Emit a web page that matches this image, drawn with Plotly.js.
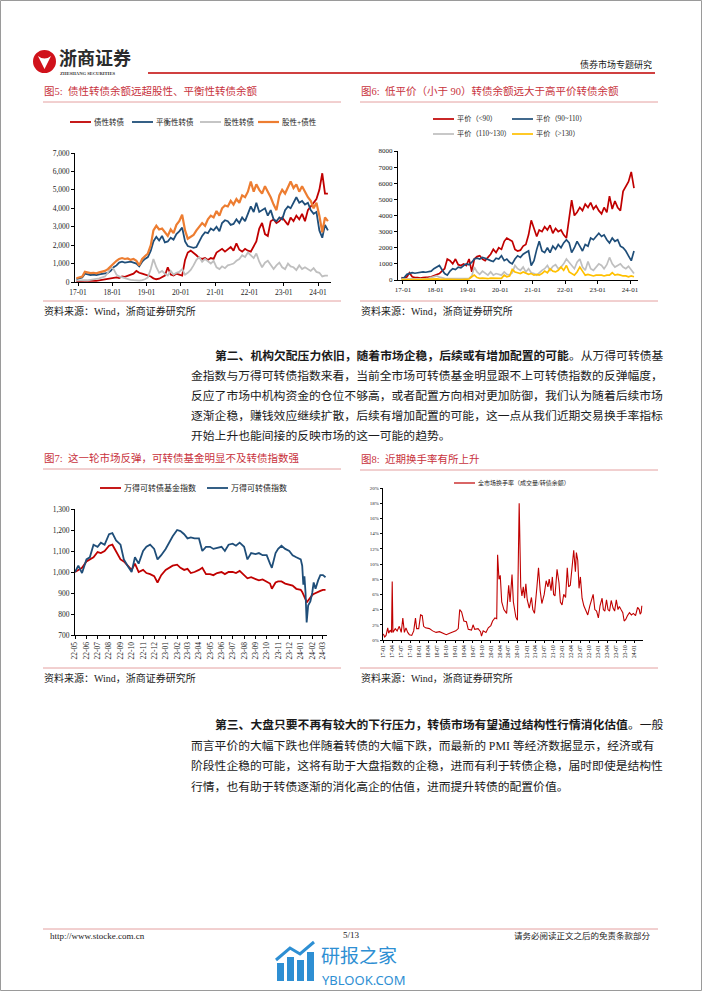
<!DOCTYPE html>
<html>
<head>
<meta charset="utf-8">
<script src="https://cdn.plot.ly/plotly-3.0.1.min.js"></script>
<style>
  html, body { margin: 0; padding: 0; background: #fff; }
  #page { width: 702px; height: 991px; }
</style>
</head>
<body>
<div id="page"></div>
<script>
'use strict';

/* global Plotly */

// ---- data: fig 5 (monthly, 2016-12 .. 2024-04), 亿元
const bondLike5 = [50,
  60, 50, 80, 60, 70, 80, 60, 90, 100, 120, 150, 180,
  200, 250, 220, 300, 280, 350, 400, 450, 600, 500, 450, 400,
  350, 300, 200, 150, 180, 250, 350, 800, 400, 350, 450, 400,
  350, 1200, 1600, 1700, 1600, 1450, 1300, 1250, 1300, 1200, 1300, 1250,
  1600, 1700, 1800, 1650, 1750, 1900, 1700, 2100, 1750, 1650, 1800, 1700,
  1650, 1900, 2200, 2900, 3200, 2600, 2500, 3300, 3400, 3200, 3300, 3500,
  3300, 3100, 3500, 3300, 3600, 3400, 3700, 3300, 3900, 4100, 4300, 4500,
  5000, 5900, 4800, 4800];
const balanced5 = [150,
  200, 250, 450, 420, 380, 400, 380, 420, 450, 480, 500, 600,
  800, 900, 1050, 1100, 1050, 1080, 1100, 1050, 1000, 850, 1100, 1250,
  1350, 1700, 2200, 2450, 2250, 2500, 2150, 2200, 2400, 2300, 2600, 2750,
  2950, 2200, 1950, 1900, 1850, 1900, 2200, 2500, 2700, 2650, 2900, 2800,
  3000, 2750, 3200, 3350, 3300, 3100, 3150, 3400, 3200, 3500, 3300, 3700,
  4100, 3800, 4300, 3800, 3900, 4000, 3600, 3900, 3400, 3300, 3500, 3400,
  3900, 4100, 4000, 4300, 4600, 4300, 4400, 4200, 4300, 3900, 3700, 3800,
  2800, 2400, 3100, 2800];
const equityLike5 = [80,
  100, 120, 100, 90, 110, 120, 150, 200, 250, 300, 500, 800,
  700, 400, 300, 250, 200, 150, 120, 100, 80, 70, 100, 150,
  250, 700, 1250, 800, 500, 600, 450, 350, 600, 400, 500, 550,
  700, 400, 500, 650, 900, 1200, 1350, 1100, 1250, 1100, 1000, 1150,
  800, 700, 850, 750, 900, 950, 1000, 1150, 1250, 1450, 1350, 1600,
  1450, 1300, 1550, 1100, 800, 1050, 1150, 950, 700, 900, 1050, 800,
  700, 1000, 850, 800, 650, 900, 700, 800, 700, 600, 750, 550,
  500, 300, 350, 350];
const equityPlusBond5 = [200,
  250, 300, 550, 520, 480, 500, 470, 520, 560, 600, 700, 850,
  1050, 1150, 1250, 1300, 1250, 1280, 1200, 1250, 1150, 900, 1250, 1400,
  1550, 2000, 2800, 3050, 2850, 2900, 2700, 2500, 2850, 2650, 3100, 3300,
  3650, 2800, 2350, 2450, 2550, 2800, 3000, 3200, 3050, 3400, 3600, 3500,
  3850, 3600, 4000, 4150, 4100, 4400, 4200, 4500, 4300, 4700, 4600, 4900,
  5450, 4900, 5300, 5000, 4800, 5200, 4900, 4600, 4200, 3900, 4700, 5000,
  4800, 5100, 5450, 5100, 5300, 4900, 5200, 4900, 4600, 4400, 4000, 4300,
  3600, 2700, 3500, 3300];

// ---- data: fig 6 (monthly, 2016-12 .. 2024-02), 亿元
const parityBelow90 = [150,
  100, 200, 450, 200, 150, 150, 120, 150, 150, 180, 200, 250,
  350, 400, 550, 700, 1300, 1200, 1000, 1300, 950, 900, 1000, 900,
  1300, 500, 1300, 1450, 1500, 1300, 1200, 1400, 1600, 1900, 1700, 2000,
  1900, 2400, 2600, 2500, 2400, 1900, 1800, 1850, 2100, 2200, 2800, 3700,
  3200, 2700, 3100, 3000, 3300, 3100, 3400, 2900, 3200, 3000, 3100, 2800,
  2600, 4000, 4950, 4000, 4200, 4500, 4300, 4700, 4500, 4800, 4400, 4600,
  4300, 4100, 4500, 4200, 5200, 4400, 4900, 4500, 4300, 5500, 5800, 6100,
  6700, 5700];
const parity90to110 = [100,
  150, 350, 400, 450, 420, 450, 480, 500, 480, 500, 550, 700,
  800, 900, 650, 400, 300, 550, 700, 650, 800, 750, 900, 1000,
  950, 1100, 1300, 1350, 1300, 1400, 1350, 1250, 1200, 1150, 1350, 1300,
  1500, 1200, 1300, 1100, 1000, 1300, 1500, 1400, 1600, 1700, 1800, 900,
  1200, 1900, 2400, 1800, 1700, 2000, 1700, 2100, 1900, 2200, 2000, 2300,
  2500, 2300, 1700, 2000, 2400, 2100, 1800, 2200, 2100, 2600, 2500, 2700,
  2900, 2700, 2800, 2500, 2300, 2600, 2400, 2500, 2100, 2000, 1800, 1500,
  1200, 1800];
const parity110to130 = [50,
  50, 80, 60, 50, 50, 60, 70, 80, 90, 100, 150, 200,
  250, 180, 120, 100, 80, 80, 90, 70, 60, 60, 80, 90,
  100, 250, 800, 500, 350, 550, 400, 300, 500, 300, 400, 350,
  300, 500, 350, 300, 450, 900, 700, 600, 800, 500, 700, 450,
  400, 300, 450, 600, 700, 900, 600, 850, 950, 700, 800, 1000,
  1300, 1100, 950, 700, 1100, 1300, 800, 600, 1150, 700, 600, 800,
  1000, 900, 700, 950, 1400, 1000, 800, 900, 1000, 800, 700, 850,
  600, 400];
const parityAbove130 = [20,
  30, 30, 40, 30, 30, 30, 40, 40, 50, 50, 60, 60,
  70, 60, 50, 50, 40, 40, 40, 30, 30, 30, 40, 50,
  60, 200, 300, 150, 100, 120, 100, 80, 120, 100, 120, 100,
  100, 300, 200, 250, 650, 500, 450, 400, 500, 400, 350, 400,
  300, 350, 300, 400, 550, 450, 700, 550, 500, 600, 800, 600,
  900, 500, 400, 300, 500, 800, 550, 300, 350, 300, 250, 300,
  300, 300, 250, 300, 300, 450, 300, 350, 300, 250, 250, 200,
  250, 200];
const yearTicks = ['2017-01-01', '2018-01-01', '2019-01-01', '2020-01-01',
  '2021-01-01', '2022-01-01', '2023-01-01', '2024-01-01'];

// ---- data: fig 7
const idxDates = [
  '2022-05-01', '2022-05-10', '2022-05-20', '2022-06-01', '2022-06-10', '2022-06-20',
  '2022-07-01', '2022-07-10', '2022-07-20', '2022-08-01', '2022-08-10', '2022-08-20',
  '2022-09-01', '2022-09-10', '2022-09-20', '2022-10-01', '2022-10-10', '2022-10-20',
  '2022-11-01', '2022-11-10', '2022-11-20', '2022-12-01', '2022-12-10', '2022-12-20',
  '2023-01-01', '2023-01-10', '2023-01-20', '2023-02-01', '2023-02-10', '2023-02-20',
  '2023-03-01', '2023-03-10', '2023-03-20', '2023-04-01', '2023-04-10', '2023-04-20',
  '2023-05-01', '2023-05-10', '2023-05-20', '2023-06-01', '2023-06-10', '2023-06-20',
  '2023-07-01', '2023-07-10', '2023-07-20', '2023-08-01', '2023-08-10', '2023-08-20',
  '2023-09-01', '2023-09-10', '2023-09-20', '2023-10-01', '2023-10-10', '2023-10-15',
  '2023-10-25', '2023-11-01', '2023-11-10', '2023-11-20', '2023-12-01', '2023-12-10',
  '2023-12-20', '2024-01-01', '2024-01-05', '2024-01-08', '2024-01-11', '2024-01-14',
  '2024-01-17', '2024-01-21', '2024-01-27', '2024-02-01', '2024-02-05', '2024-02-10',
  '2024-02-17', '2024-02-23', '2024-03-01', '2024-03-08'];
const fundIndex = [
  1000, 1010, 1020, 1050, 1060, 1070, 1095, 1090, 1100, 1125, 1130, 1100,
  1060, 1050, 1030, 1010, 1040, 1000, 1010, 995, 990, 980, 950, 985,
  1010, 1020, 1030, 1035, 1020, 1010, 1015, 995, 1000, 1010, 1020, 990,
  990, 985, 995, 1000, 990, 1000, 1000, 995, 1005, 985, 970, 975,
  965, 960, 965, 955, 945, 920, 950, 955, 955, 945, 940, 935,
  920, 915, 905, 895, 885, 870, 855, 865, 880, 890, 895, 900,
  905, 910, 915, 915];
const cbIndex = [
  1000, 1030, 995, 1060, 1070, 1130, 1120, 1140, 1130, 1180, 1185, 1150,
  1130, 1060, 1030, 1000, 1070, 1040, 1100, 1120, 1130, 1110, 1060, 1080,
  1110, 1140, 1170, 1200, 1195, 1180, 1160, 1165, 1160, 1160, 1100, 1120,
  1120, 1110, 1115, 1120, 1100, 1130, 1135, 1125, 1140, 1120, 1060, 1090,
  1085, 1090, 1080, 1080, 1040, 1020, 1090, 1110, 1125, 1110, 1100, 1080,
  1070, 1060, 1030, 940, 980, 900, 760, 840, 860, 900, 950, 920,
  960, 985, 985, 975];

// ---- data: fig 8, 全市场换手率 (%)
const turnDates = [
  '2017-01-01', '2017-01-14', '2017-01-28', '2017-02-14', '2017-02-24', '2017-03-11',
  '2017-03-25', '2017-04-01', '2017-04-08', '2017-05-02', '2017-05-21', '2017-06-12',
  '2017-07-02', '2017-07-18', '2017-08-03', '2017-08-19', '2017-09-06', '2017-09-23',
  '2017-10-17', '2017-11-06', '2017-11-24', '2017-12-06', '2017-12-27', '2018-01-15',
  '2018-02-01', '2018-02-15', '2018-03-06', '2018-04-15', '2018-05-18', '2018-06-22',
  '2018-07-27', '2018-09-01', '2018-10-04', '2018-11-07', '2018-12-12', '2019-01-09',
  '2019-02-03', '2019-02-18', '2019-03-09', '2019-04-01', '2019-04-27', '2019-05-16',
  '2019-06-18', '2019-07-04', '2019-07-21', '2019-08-24', '2019-09-18', '2019-09-28',
  '2019-10-15', '2019-11-12', '2019-12-06', '2020-01-01', '2020-01-19', '2020-02-12',
  '2020-03-01', '2020-03-10', '2020-03-24', '2020-04-06', '2020-04-21', '2020-05-13',
  '2020-06-10', '2020-07-01', '2020-07-15', '2020-08-04', '2020-08-18', '2020-09-12',
  '2020-09-28', '2020-10-16', '2020-11-01', '2020-11-13', '2020-11-27', '2020-12-10',
  '2020-12-23', '2021-01-06', '2021-01-27', '2021-02-18', '2021-03-04', '2021-03-21',
  '2021-04-15', '2021-05-01', '2021-05-18', '2021-06-04', '2021-06-28', '2021-07-18',
  '2021-08-05', '2021-08-18', '2021-09-06', '2021-09-19', '2021-10-02', '2021-10-16',
  '2021-11-06', '2021-11-26', '2021-12-10', '2021-12-27', '2022-01-13', '2022-02-01',
  '2022-02-18', '2022-03-04', '2022-03-21', '2022-04-08', '2022-04-25', '2022-05-12',
  '2022-05-22', '2022-06-05', '2022-06-18', '2022-07-02', '2022-07-19', '2022-08-06',
  '2022-08-26', '2022-09-15', '2022-10-06', '2022-10-26', '2022-11-09', '2022-11-26',
  '2022-12-14', '2023-01-01', '2023-01-18', '2023-02-08', '2023-02-21', '2023-03-08',
  '2023-03-25', '2023-04-09', '2023-04-25', '2023-05-12', '2023-05-31', '2023-06-16',
  '2023-07-03', '2023-07-20', '2023-08-03', '2023-08-20', '2023-09-07', '2023-09-21',
  '2023-10-07', '2023-10-24', '2023-11-14', '2023-12-04', '2023-12-24', '2024-01-15',
  '2024-02-05', '2024-02-22', '2024-03-02', '2024-03-12', '2024-03-19'];
const turnover = [
  0.8, 0.4, 0.6, 1.6, 0.9, 1.3,
  1.0, 7.7, 1.0, 1.5, 1.2, 1.8,
  1.0, 2.9, 1.0, 1.6, 1.0, 0.7,
  0.6, 1.2, 2.9, 1.5, 1.5, 3.3,
  3.2, 1.8, 1.6, 1.5, 1.2, 1.0,
  1.1, 0.9, 0.7, 0.9, 1.1, 1.2,
  1.5, 4.0, 3.7, 2.5, 2.4, 1.4,
  1.3, 2.0, 1.4, 1.5, 1.1, 0.5,
  1.2, 1.0, 1.6, 1.9, 2.5, 2.9,
  2.8, 11.2, 8.0, 8.5, 5.0, 4.0,
  3.5, 7.2, 5.0, 8.6, 5.0, 3.0,
  2.6, 18.0, 7.0, 5.8, 7.0, 5.5,
  7.4, 5.3, 4.2, 5.6, 4.0, 3.5,
  7.0, 9.5, 6.5, 4.8, 6.0, 7.8,
  7.0, 8.0, 6.5, 8.3, 6.0, 5.8,
  9.3, 7.5, 5.0, 4.6, 6.0, 5.6,
  9.5, 7.0, 7.2, 10.0, 11.8, 9.0,
  11.5, 10.5, 6.8, 8.3, 5.5, 4.5,
  3.8, 3.3, 4.5, 5.5, 6.0, 4.0,
  3.8, 2.9, 4.5, 5.5, 4.0, 3.8,
  5.3, 4.0, 3.8, 5.2, 4.2, 3.8,
  5.3, 4.0, 4.4, 4.0, 3.6, 2.5,
  2.7, 3.2, 3.6, 3.3, 3.5, 3.2,
  4.3, 4.0, 3.4, 3.6, 4.5];

// ---- page geometry (pixels of the 702 x 991 page)
const W = 702;
const H = 991;
const px = v => v / W;
const py = v => 1 - v / H;

const SERIF = '"Liberation Serif", "Noto Sans CJK SC", serif';
const RED = '#c00000';
const NAVY = '#1f4e79';
const GREY = '#bfbfbf';
const ORANGE = '#ed7d31';
const GOLD = '#ffc000';
const TITLE_RED = '#c8323c';
const RULE = '#e4a0a0';

// month-middle dates, used as the x of the monthly series
function monthly(year, month, n) {
  const out = [];
  for (let i = 0; i < n; i++) {
    out.push(`${year}-${String(month).padStart(2, '0')}-15`);
    month++;
    if (month > 12) {
      month = 1;
      year++;
    }
  }
  return out;
}
const months5 = monthly(2016, 12, bondLike5.length);
const months6 = monthly(2016, 12, parityBelow90.length);

function line(x, y, color, width, n) {
  return {
    x, y, type: 'scatter', mode: 'lines', hoverinfo: 'skip', showlegend: false,
    line: {color, width},
    xaxis: 'x' + (n > 1 ? n : ''), yaxis: 'y' + (n > 1 ? n : '')
  };
}

const data = [
  line(months5, bondLike5, RED, 1.8, 1),
  line(months5, balanced5, NAVY, 1.8, 1),
  line(months5, equityLike5, GREY, 1.8, 1),
  line(months5, equityPlusBond5, ORANGE, 2.2, 1),
  line(months6, parityBelow90, RED, 1.7, 2),
  line(months6, parity90to110, NAVY, 1.7, 2),
  line(months6, parity110to130, GREY, 1.7, 2),
  line(months6, parityAbove130, GOLD, 1.7, 2),
  line(idxDates, fundIndex, RED, 1.8, 3),
  line(idxDates, cbIndex, NAVY, 1.8, 3),
  line(turnDates, turnover, '#c00000', 1.1, 4)
];

function axis(extra) {
  return Object.assign({
    showline: true, linecolor: '#000', linewidth: 1,
    ticks: 'outside', ticklen: 3, tickwidth: 1, tickcolor: '#000',
    showgrid: false, zeroline: false, fixedrange: true,
    tickfont: {family: SERIF, size: 7.5, color: '#222'}
  }, extra);
}

// ---- text helpers
function note(text, x, y, size, opts = {}) {
  return {
    text, xref: 'paper', yref: 'paper', x: px(x), y: py(y),
    xanchor: opts.anchor || 'left', yanchor: 'middle', showarrow: false,
    borderpad: 0,
    font: {family: opts.family || SERIF, size, color: opts.color || '#1a1a1a'}
  };
}
function hline(x0, x1, y, color, width) {
  return {type: 'line', xref: 'paper', yref: 'paper',
    x0: px(x0), x1: px(x1), y0: py(y), y1: py(y), line: {color, width}};
}
function box(x0, y0, x1, y1, fill) {
  return {type: 'rect', xref: 'paper', yref: 'paper',
    x0: px(x0), x1: px(x1), y0: py(y1), y1: py(y0), fillcolor: fill, line: {width: 0}};
}

const shapes = [];
const annotations = [];

// legend entry: short line + label
function key(x, y, color, label, size, width) {
  shapes.push(hline(x, x + 21, y, color, width));
  annotations.push(note(label, x + 23, y, size));
}

// page frame
shapes.push({type: 'rect', xref: 'paper', yref: 'paper', x0: px(0.5), x1: px(701.5),
  y0: py(990.5), y1: py(0.5), line: {color: '#9a9a9a', width: 1}});

// header
shapes.push({type: 'circle', xref: 'paper', yref: 'paper',
  x0: px(33), x1: px(56), y0: py(73), y1: py(50), fillcolor: '#d0121b', line: {width: 0}});
shapes.push({type: 'path', xref: 'paper', yref: 'paper',
  path: `M ${px(38)} ${py(56)} Q ${px(44.5)} ${py(61)} ${px(51)} ${py(56)} L ${px(44.5)} ${py(69)} Z`,
  fillcolor: '#fff', line: {width: 0}});
shapes.push(hline(148, 655, 73, '#c00000', 1.3));
annotations.push(note('<b>浙商证券</b>', 58, 57, 18, {family: '"Noto Sans CJK SC", sans-serif', color: '#2b2b2b'}));
annotations.push(note('<b>ZHESHANG SECURITIES</b>', 59, 73.5, 4.6, {color: '#333'}));
annotations.push(note('债券市场专题研究', 653, 65, 9, {anchor: 'right'}));

// figure titles, rules and sources
const figTitles = [
  ['图5:  债性转债余额远超股性、平衡性转债余额', 43, 91],
  ['图6:  低平价（小于 90）转债余额远大于高平价转债余额', 360, 91],
  ['图7:  这一轮市场反弹，可转债基金明显不及转债指数强', 43, 458],
  ['图8:  近期换手率有所上升', 360, 459]
];
figTitles.forEach(([t, x, y]) => {
  annotations.push(note(t, x, y, 10.5, {color: TITLE_RED}));
  shapes.push(hline(x, x + 298, y + 11, RULE, 1));
  shapes.push(hline(x, x + 298, y < 400 ? 301 : 668, RULE, 1));
  annotations.push(note('资料来源：Wind，浙商证券研究所', x, y < 400 ? 311 : 678, 10));
});

// legends
key(70, 122, RED, '债性转债', 7.5, 1.8);
key(132, 122, NAVY, '平衡性转债', 7.5, 1.8);
key(200, 122, GREY, '股性转债', 7.5, 1.8);
key(258, 122, ORANGE, '股性+债性', 7.5, 2.2);

key(433, 119, RED, '平价（<90）', 7.2, 1.7);
key(512, 119, NAVY, '平价（90~110）', 7.2, 1.7);
key(433, 134, GREY, '平价（110~130）', 7.2, 1.7);
key(512, 134, GOLD, '平价（>130）', 7.2, 1.7);

key(100, 488, RED, '万得可转债基金指数', 8, 1.8);
key(207, 488, NAVY, '万得可转债指数', 8, 1.8);

key(454, 483, '#c00000', '全市场换手率（成交量/转债余额）', 6, 1.2);

// body text
const para1 = [
  '<b>第二、机构欠配压力依旧，随着市场企稳，后续或有增加配置的可能</b>。从万得可转债基',
  '金指数与万得可转债指数来看，当前全市场可转债基金明显跟不上可转债指数的反弹幅度，',
  '反应了市场中机构资金的仓位不够高，或者配置方向相对更加防御，我们认为随着后续市场',
  '逐渐企稳，赚钱效应继续扩散，后续有增加配置的可能，这一点从我们近期交易换手率指标',
  '开始上升也能间接的反映市场的这一可能的趋势。'
];
const para2 = [
  '<b>第三、大盘只要不再有较大的下行压力，转债市场有望通过结构性行情消化估值</b>。一般',
  '而言平价的大幅下跌也伴随着转债的大幅下跌，而最新的 PMI 等经济数据显示，经济或有',
  '阶段性企稳的可能，这将有助于大盘指数的企稳，进而有利于转债企稳，届时即使是结构性',
  '行情，也有助于转债逐渐的消化高企的估值，进而提升转债的配置价值。'
];
para1.forEach((t, i) => annotations.push(note(t, i === 0 ? 214 : 190, 356 + i * 20, 11.8)));
para2.forEach((t, i) => annotations.push(note(t, i === 0 ? 214 : 190, 725 + i * 20.5, 11.8)));

// footer
shapes.push(hline(43, 658, 929, RULE, 1));
annotations.push(note('http://www.stocke.com.cn', 49, 936, 9));
annotations.push(note('5/13', 351, 935, 9, {anchor: 'center'}));
annotations.push(note('请务必阅读正文之后的免责条款部分', 652, 936, 8.5, {anchor: 'right'}));

// watermark
const WM = '#2e8fd3';
shapes.push(box(277, 963, 284, 981, WM));
shapes.push(box(287, 957, 294, 981, WM));
shapes.push(box(297, 960, 304, 981, WM));
shapes.push(box(307, 952, 314, 981, WM));
shapes.push({type: 'path', xref: 'paper', yref: 'paper',
  path: `M ${px(276)} ${py(960)} L ${px(290)} ${py(948)} L ${px(300)} ${py(954)} L ${px(314)} ${py(942)}`,
  line: {color: WM, width: 3}});
annotations.push(note('研报之家', 320, 954, 19, {family: '"Noto Sans CJK SC", sans-serif', color: WM}));
annotations.push(note('YBLOOK.COM', 321, 980, 13, {family: '"Noto Sans", sans-serif', color: WM}));

const layout = {
  width: W,
  height: H,
  margin: {l: 0, r: 0, t: 0, b: 0},
  paper_bgcolor: '#fff',
  plot_bgcolor: 'rgba(0,0,0,0)',
  showlegend: false,
  xaxis: axis({type: 'date', domain: [px(75), px(331)], anchor: 'y',
    range: ['2016-11-30', '2024-05-18'], tickmode: 'array', tickvals: yearTicks, tickformat: '%y-%m'}),
  yaxis: axis({domain: [py(282), py(153)], anchor: 'x', range: [0, 7000], dtick: 1000, tickformat: ',d'}),
  xaxis2: axis({type: 'date', domain: [px(398), px(638)], anchor: 'y2',
    range: ['2016-11-06', '2024-03-31'], tickmode: 'array', tickvals: yearTicks, tickformat: '%y-%m',
    tickfont: {family: SERIF, size: 7, color: '#222'}}),
  yaxis2: axis({domain: [py(280), py(151)], anchor: 'x2', range: [0, 8000], dtick: 1000, tickformat: 'd',
    tickfont: {family: SERIF, size: 7, color: '#222'}}),
  xaxis3: axis({type: 'date', domain: [px(75), px(327)], anchor: 'y3',
    range: ['2022-05-01', '2024-03-12'], tick0: '2022-05-01', dtick: 'M1', tickformat: '%y-%m',
    tickangle: -90, tickfont: {family: SERIF, size: 7.5, color: '#222'}}),
  yaxis3: axis({domain: [py(635), py(509)], anchor: 'x3', range: [700, 1300], dtick: 100, tickformat: ',d'}),
  xaxis4: axis({type: 'date', domain: [px(383), px(643)], anchor: 'y4',
    range: ['2016-12-28', '2024-03-31'], tick0: '2017-01-01', dtick: 'M3', tickformat: '%y-%m',
    tickangle: -90, ticklen: 2, tickfont: {family: SERIF, size: 5.5, color: '#222'}}),
  yaxis4: axis({domain: [py(640), py(488)], anchor: 'x4', range: [0, 20], dtick: 2, ticksuffix: '%',
    ticklen: 2, tickfont: {family: SERIF, size: 5, color: '#222'}}),
  shapes,
  annotations
};

Plotly.newPlot('page', data, layout, {staticPlot: true, displayModeBar: false});
</script>
</body>
</html>
